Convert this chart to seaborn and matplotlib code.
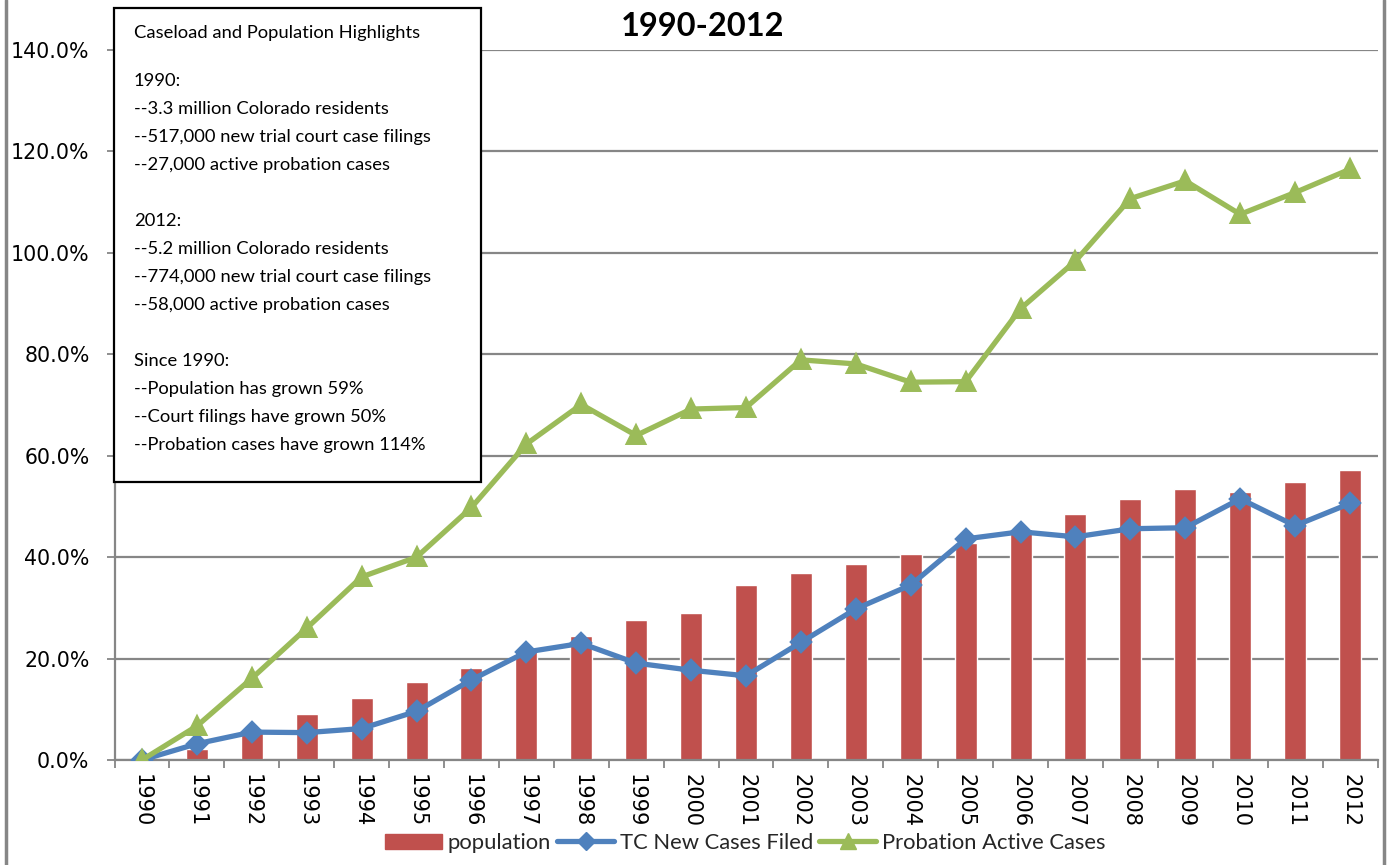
import matplotlib
matplotlib.use("Agg")
import matplotlib.pyplot as plt
from matplotlib.patches import Rectangle, Patch
from matplotlib.lines import Line2D
from matplotlib.ticker import FixedLocator, FuncFormatter
import seaborn as sns
import pandas as pd

# Growth since 1990, in percent
years = [str(y) for y in range(1990, 2013)]
population = [0.0, 2.2, 5.5, 9.0, 12.3, 15.3, 18.1, 21.4, 24.4, 27.7, 28.9, 34.5,
              36.8, 38.7, 40.7, 42.8, 45.6, 48.5, 51.5, 53.5, 52.8, 54.9, 57.2]
tc_new_cases = [0.0, 3.2, 5.5, 5.4, 6.2, 9.6, 15.8, 21.3, 23.0, 19.1, 17.7, 16.6,
                23.2, 29.8, 34.5, 43.6, 45.0, 44.0, 45.6, 45.8, 51.5, 46.2, 50.6]
probation = [0.0, 6.7, 16.1, 26.0, 36.1, 40.0, 49.8, 62.3, 70.1, 64.0, 69.2, 69.5,
             78.9, 78.1, 74.5, 74.6, 89.0, 98.4, 110.7, 114.2, 107.6, 111.9, 116.5]

series_labels = ["population", "TC New Cases Filed", "Probation Active Cases"]
title = "1990-2012"
y_ticks = [0, 20, 40, 60, 80, 100, 120, 140]

highlights = [
    "Caseload and Population Highlights",
    "",
    "1990:",
    "--3.3 million Colorado residents",
    "--517,000 new trial court case filings",
    "--27,000 active probation cases",
    "",
    "2012:",
    "--5.2 million Colorado residents",
    "--774,000 new trial court case filings",
    "--58,000 active probation cases",
    "",
    "Since 1990:",
    "--Population has grown 59%",
    "--Court filings have grown 50%",
    "--Probation cases have grown 114%",
]

RED = "#C0504D"
BLUE = "#4F81BD"
GREEN = "#9BBB59"
GRID = "#868686"

sns.set_theme(style="white")
plt.rcParams["font.family"] = ["Lato", "DejaVu Sans"]

df = pd.DataFrame({"year": years, "population": population,
                   "tc": tc_new_cases, "probation": probation})

W, H = 1388, 865
fig = plt.figure(figsize=(W / 100, H / 100), dpi=100)
ax = fig.add_axes([114.5 / W, 1 - 760 / H, (1377.5 - 114.5) / W, 710 / H])

sns.barplot(data=df, x="year", y="population", color=RED, saturation=1,
            width=0.4, ax=ax, zorder=2)
sns.pointplot(data=df, x="year", y="tc", color=BLUE, markers="D",
              linestyles="-", errorbar=None, ax=ax, linewidth=3.8,
              markersize=9.5, markeredgecolor=BLUE, zorder=3)
sns.pointplot(data=df, x="year", y="probation", color=GREEN, markers="^",
              linestyles="-", errorbar=None, ax=ax, linewidth=3.8,
              markersize=11.5, markeredgecolor=GREEN, zorder=4)

ax.set_xlim(-0.5, len(years) - 0.5)
ax.set_ylim(0, 140)
ax.set_xlabel("")
ax.set_ylabel("")

# axes, grid and ticks
ax.set_axisbelow(True)
ax.yaxis.set_major_locator(FixedLocator(y_ticks))
ax.yaxis.set_major_formatter(FuncFormatter(lambda v, p: f"{v:.1f}%"))
ax.grid(axis="y", color=GRID, linewidth=1.6)
for side in ("top", "right"):
    ax.spines[side].set_visible(False)
for side in ("left", "bottom"):
    ax.spines[side].set_color(GRID)
    ax.spines[side].set_linewidth(1.6)
ax.tick_params(axis="y", which="major", left=True, direction="out", length=6,
               width=1.3, color=GRID, pad=12, labelsize=14.8, labelcolor="black")
for lab in ax.get_yticklabels():
    lab.set_fontfamily("DejaVu Sans")
ax.xaxis.set_minor_locator(FixedLocator([i - 0.5 for i in range(len(years) + 1)]))
ax.tick_params(axis="x", which="major", bottom=True, length=0, pad=10,
               labelsize=15, labelrotation=-90, labelcolor="black")
ax.tick_params(axis="x", which="minor", bottom=True, direction="out", length=6,
               width=1.3, color=GRID)
for lab in ax.get_xticklabels():
    lab.set_fontfamily(["Liberation Sans Narrow", "DejaVu Sans"])
    lab.set_va("top")
    lab.set_ha("center")

# title
fig.text(703 / W, 1 - 27 / H, title, ha="center", va="center",
         fontsize=23.5, fontweight="bold", color="black")

# highlights box
fig.add_artist(Rectangle((114 / W, 1 - 482 / H), (481 - 114) / W, (482 - 8) / H,
                         transform=fig.transFigure, facecolor="white",
                         edgecolor="black", linewidth=1.6, zorder=5))
for i, line in enumerate(highlights):
    if not line:
        continue
    y_px = 33 if i == 0 else 81 + (i - 2) * 28
    fig.text(134 / W, 1 - y_px / H, line, ha="left", va="center",
             fontsize=13.2, color="black", zorder=6)

# chart frame
for x_px in (6, 1384):
    fig.add_artist(Line2D([x_px / W, x_px / W], [0, 1], transform=fig.transFigure,
                          color=GRID, linewidth=2.5))

# legend
handles = [
    Patch(facecolor=RED, edgecolor=RED),
    Line2D([], [], color=BLUE, linewidth=3.8, marker="D", markersize=9.5),
    Line2D([], [], color=GREEN, linewidth=3.8, marker="^", markersize=11.5),
]
fig.legend(handles, series_labels, loc="center", ncol=3, frameon=False,
           bbox_to_anchor=(745 / W, 1 - 843 / H), fontsize=15.8,
           handlelength=2.6, handleheight=0.65, handletextpad=0.25,
           columnspacing=0.3)

fig.savefig("out.png", dpi=100)
